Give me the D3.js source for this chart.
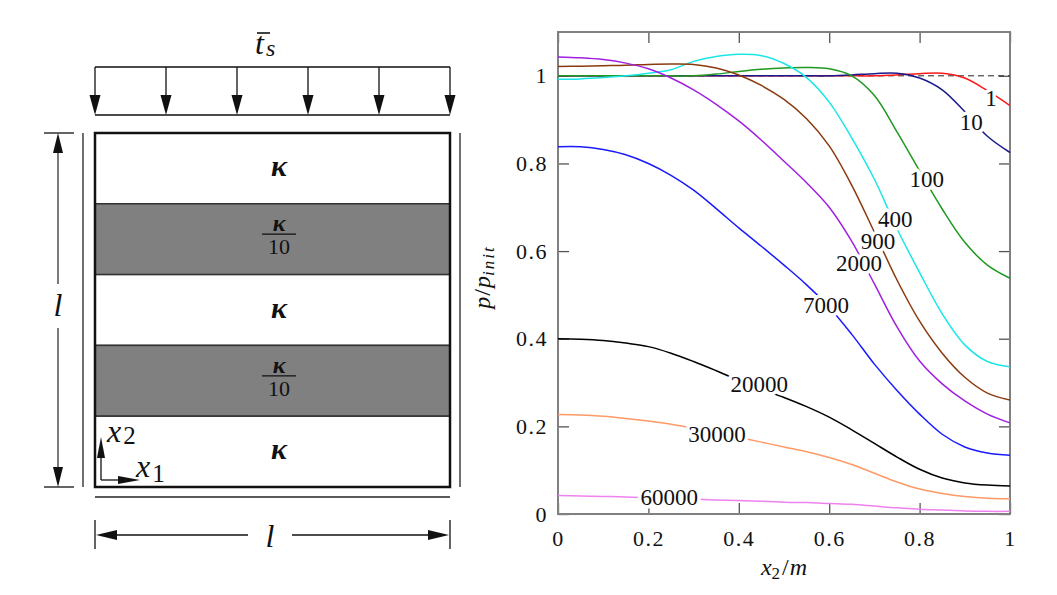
<!DOCTYPE html>
<html><head><meta charset="utf-8">
<script src="https://cdn.jsdelivr.net/npm/d3@7"></script>
<style>body{margin:0;background:#fff}svg{display:block}</style>
</head><body>
<svg id="c" width="1057" height="595"></svg>
<script>
// ---------- data ----------
const xs = [0,0.05,0.1,0.15,0.2,0.25,0.3,0.35,0.4,0.45,0.5,0.55,0.6,0.65,0.7,0.75,0.8,0.85,0.9,0.95,1];
const seriesNames = ["1","10","100","400","900","2000","7000","20000","30000","60000"];
const s1     = [1,1,1,1,1,1,1,1,1,1,1,1,1,1,1,1.002,1.005,1.006,0.995,0.966,0.932];
const s10    = [1,1,1,1,1,1,1,1,1,1,1,1,1,1.002,1.005,1.006,0.995,0.968,0.918,0.862,0.825];
const s100   = [1,1,1,1,1,1,1,1.004,1.01,1.015,1.018,1.019,1.016,1.0,0.955,0.872,0.783,0.696,0.62,0.568,0.538];
const s400   = [0.992,0.993,0.996,1.0,1.006,1.014,1.033,1.044,1.049,1.046,1.028,0.996,0.94,0.858,0.764,0.651,0.551,0.457,0.386,0.348,0.336];
const s900   = [1.021,1.022,1.023,1.024,1.026,1.027,1.026,1.018,1.002,0.978,0.946,0.902,0.84,0.75,0.643,0.534,0.44,0.367,0.312,0.276,0.26];
const s2000  = [1.043,1.041,1.037,1.029,1.016,0.995,0.968,0.935,0.897,0.853,0.805,0.756,0.700,0.622,0.525,0.427,0.349,0.297,0.258,0.228,0.208];
const s7000  = [0.838,0.838,0.832,0.82,0.80,0.773,0.739,0.697,0.653,0.611,0.568,0.523,0.472,0.41,0.342,0.282,0.228,0.182,0.153,0.139,0.134];
const s20000 = [0.40,0.399,0.396,0.39,0.382,0.367,0.348,0.327,0.305,0.285,0.266,0.245,0.221,0.192,0.161,0.13,0.102,0.082,0.071,0.066,0.064];
const s30000 = [0.227,0.226,0.223,0.218,0.212,0.205,0.196,0.186,0.175,0.164,0.153,0.142,0.129,0.113,0.093,0.073,0.057,0.047,0.04,0.036,0.035];
const s60000 = [0.042,0.041,0.040,0.039,0.037,0.035,0.034,0.032,0.031,0.029,0.027,0.026,0.024,0.022,0.018,0.014,0.011,0.009,0.007,0.006,0.006];
const seriesValues = [s1,s10,s100,s400,s900,s2000,s7000,s20000,s30000,s60000];
const seriesColors = ["#ff1a1a","#1a1a8c","#1f991f","#1ae6e6","#8b3a0f","#a020e0","#1a1aff","#000000","#ff9966","#ee82ee"];
const labelX = [0.958,0.914,0.816,0.746,0.708,0.666,0.593,0.445,0.352,0.246];
const labelY = [0.950,0.895,0.765,0.674,0.624,0.574,0.478,0.296,0.182,0.039];
const xTicks = [0,0.2,0.4,0.6,0.8,1];
const yTicks = [0,0.2,0.4,0.6,0.8,1];
const layerLabels = ["κ","κ/10","κ","κ/10","κ"];
const arrowCount = 6;

const svg = d3.select("#c");
const SERIF = "'Liberation Serif', 'Times New Roman', serif";

// ---------- right chart ----------
const L = 558, R = 1010, T = 32, B = 514;
const x = d3.scaleLinear().domain([0,1]).range([L,R]);
const y = d3.scaleLinear().domain([0,1.1]).range([B,T]);

const g = svg.append("g");
const tickLen = 11;
const axB = g.append("g").attr("transform",`translate(0,${B})`)
  .call(d3.axisBottom(x).tickValues(xTicks).tickSize(-tickLen).tickPadding(16).tickFormat(d=>d3.format("")(d)));
const axT = g.append("g").attr("transform",`translate(0,${T})`)
  .call(d3.axisTop(x).tickValues(xTicks).tickSize(-tickLen).tickFormat(""));
const axL = g.append("g").attr("transform",`translate(${L},0)`)
  .call(d3.axisLeft(y).tickValues(yTicks).tickSize(-tickLen).tickPadding(10).tickFormat(d=>d3.format("")(d)));
const axR = g.append("g").attr("transform",`translate(${R},0)`)
  .call(d3.axisRight(y).tickValues(yTicks).tickSize(-tickLen).tickFormat(""));
[axB,axT,axL,axR].forEach(a=>{
  a.select(".domain").remove();
  a.selectAll(".tick line").attr("stroke","#555").attr("stroke-width",1.3);
  a.selectAll(".tick text").attr("font-family",SERIF).attr("font-size",22).attr("fill","#111")
    .attr("letter-spacing",1.5);
});
g.append("rect").attr("x",L).attr("y",T).attr("width",R-L).attr("height",B-T)
  .attr("fill","none").attr("stroke","#808080").attr("stroke-width",2);

g.append("line").attr("x1",x(0)).attr("x2",x(1)).attr("y1",y(1)).attr("y2",y(1))
  .attr("stroke","#222").attr("stroke-width",1).attr("stroke-dasharray","6,4");

const line = d3.line().x((d,i)=>x(xs[i])).y(d=>y(d)).curve(d3.curveCatmullRom.alpha(0.5));
seriesValues.forEach((vals,k)=>{
  g.append("path").attr("d",line(vals)).attr("fill","none")
    .attr("stroke",seriesColors[k]).attr("stroke-width",1.5);
});
seriesNames.forEach((n,k)=>{
  g.append("text").attr("x",x(labelX[k])).attr("y",y(labelY[k])).attr("dy","0.35em")
    .attr("text-anchor","middle").attr("font-family",SERIF).attr("font-size",23).attr("fill","#111")
    .attr("stroke","#fff").attr("stroke-width",7).attr("paint-order","stroke").attr("stroke-linejoin","round")
    .text(n);
});
const yl = g.append("text").attr("transform",`translate(490,277) rotate(-90)`)
  .attr("text-anchor","middle").attr("font-family",SERIF).attr("font-style","italic").attr("font-size",24).attr("fill","#111");
yl.append("tspan").text("p");
yl.append("tspan").attr("font-style","normal").attr("dx",1).text("/");
yl.append("tspan").attr("dx",1).text("p");
yl.append("tspan").attr("font-size",17).attr("dy",4).attr("letter-spacing",2).text("init");
const xl = g.append("text").attr("x",784).attr("y",575)
  .attr("text-anchor","middle").attr("font-family",SERIF).attr("font-style","italic").attr("font-size",24).attr("fill","#111");
xl.append("tspan").text("x");
xl.append("tspan").attr("font-size",17).attr("font-style","normal").attr("dy",4).text("2");
xl.append("tspan").attr("dy",-4).attr("dx",2).attr("font-style","normal").text("/");
xl.append("tspan").attr("dx",1).text("m");

// ---------- left diagram ----------
const bx0 = 95, bx1 = 450, by0 = 133, by1 = 487;
const lay = d3.scaleBand().domain(d3.range(layerLabels.length)).range([by0,by1]);
const d = svg.append("g");
layerLabels.forEach((lab,i)=>{
  d.append("rect").attr("x",bx0).attr("y",lay(i)).attr("width",bx1-bx0).attr("height",lay.bandwidth())
    .attr("fill", lab.includes("/") ? "#808080" : "#fff").attr("stroke","#333").attr("stroke-width",1.5);
  const cx = 279, cy = lay(i)+lay.bandwidth()/2;
  if(lab.includes("/")){
    d.append("text").attr("x",cx).attr("y",cy-8).attr("text-anchor","middle")
      .attr("font-family",SERIF).attr("font-style","italic").attr("font-weight","bold").attr("font-size",24).attr("fill","#111").text("κ");
    d.append("line").attr("x1",cx-17).attr("x2",cx+17).attr("y1",cy-5).attr("y2",cy-5).attr("stroke","#111").attr("stroke-width",1.3);
    d.append("text").attr("x",cx).attr("y",cy+15).attr("text-anchor","middle")
      .attr("font-family",SERIF).attr("font-size",22).attr("fill","#111").text("10");
  } else {
    d.append("text").attr("x",cx).attr("y",cy).attr("dy","0.25em").attr("text-anchor","middle")
      .attr("font-family",SERIF).attr("font-style","italic").attr("font-weight","bold").attr("font-size",30).attr("fill","#111").text("κ");
  }
});
d.append("rect").attr("x",bx0).attr("y",by0).attr("width",bx1-bx0).attr("height",by1-by0)
  .attr("fill","none").attr("stroke","#111").attr("stroke-width",2.5);

d.append("line").attr("x1",83).attr("x2",83).attr("y1",by0).attr("y2",by1).attr("stroke","#222").attr("stroke-width",1.3);
d.append("line").attr("x1",460).attr("x2",460).attr("y1",by0).attr("y2",by1).attr("stroke","#222").attr("stroke-width",1.3);
d.append("line").attr("x1",bx0).attr("x2",bx1).attr("y1",497).attr("y2",497).attr("stroke","#222").attr("stroke-width",1.3);

const ax = d3.scaleLinear().domain([0,arrowCount-1]).range([bx0,bx1]);
d.append("line").attr("x1",bx0).attr("x2",bx1).attr("y1",67).attr("y2",67).attr("stroke","#111").attr("stroke-width",1.3);
d.append("line").attr("x1",bx0).attr("x2",bx1).attr("y1",115).attr("y2",115).attr("stroke","#111").attr("stroke-width",1.3);
d3.range(arrowCount).forEach(i=>{
  const px = ax(i);
  d.append("line").attr("x1",px).attr("x2",px).attr("y1",67).attr("y2",97).attr("stroke","#111").attr("stroke-width",1.3);
  d.append("path").attr("d",`M${px-5.5},95 L${px+5.5},95 L${px},115 Z`).attr("fill","#111");
});
// title t_s
d.append("line").attr("x1",257).attr("x2",270).attr("y1",33).attr("y2",33).attr("stroke","#111").attr("stroke-width",1.6);
const tt = d.append("text").attr("x",255).attr("y",54).attr("font-family",SERIF).attr("font-style","italic").attr("font-size",32).attr("fill","#111");
tt.append("tspan").text("t");
tt.append("tspan").attr("font-size",24).attr("dx",2).attr("dy",2).text("s");

const dimC = "#333";
d.append("line").attr("x1",44).attr("x2",74).attr("y1",by0).attr("y2",by0).attr("stroke","#111").attr("stroke-width",1.3);
d.append("line").attr("x1",44).attr("x2",74).attr("y1",by1).attr("y2",by1).attr("stroke","#111").attr("stroke-width",1.3);
d.append("line").attr("x1",58).attr("x2",58).attr("y1",by0+10).attr("y2",284).attr("stroke",dimC).attr("stroke-width",1.3);
d.append("line").attr("x1",58).attr("x2",58).attr("y1",328).attr("y2",by1-10).attr("stroke",dimC).attr("stroke-width",1.3);
d.append("path").attr("d",`M53,153 L63,153 L58,${by0} Z`).attr("fill","#111");
d.append("path").attr("d",`M53,${by1-20} L63,${by1-20} L58,${by1} Z`).attr("fill","#111");
d.append("text").attr("x",58).attr("y",316).attr("text-anchor","middle").attr("font-family",SERIF)
  .attr("font-style","italic").attr("font-size",32).attr("fill","#111").text("l");

d.append("line").attr("x1",bx0).attr("x2",bx0).attr("y1",520).attr("y2",549).attr("stroke","#111").attr("stroke-width",1.3);
d.append("line").attr("x1",bx1).attr("x2",bx1).attr("y1",520).attr("y2",549).attr("stroke","#111").attr("stroke-width",1.3);
d.append("line").attr("x1",bx0+10).attr("x2",248).attr("y1",535).attr("y2",535).attr("stroke","#111").attr("stroke-width",1.3);
d.append("line").attr("x1",292).attr("x2",bx1-10).attr("y1",535).attr("y2",535).attr("stroke","#111").attr("stroke-width",1.3);
d.append("path").attr("d",`M${bx0+1},535 L${bx0+22},530 L${bx0+22},540 Z`).attr("fill","#111");
d.append("path").attr("d",`M${bx1-1},535 L${bx1-22},530 L${bx1-22},540 Z`).attr("fill","#111");
d.append("text").attr("x",270).attr("y",547).attr("text-anchor","middle").attr("font-family",SERIF)
  .attr("font-style","italic").attr("font-size",32).attr("fill","#111").text("l");

d.append("line").attr("x1",101).attr("x2",101).attr("y1",480).attr("y2",455).attr("stroke","#111").attr("stroke-width",1.3);
d.append("path").attr("d",`M97,458 L105,458 L101,437 Z`).attr("fill","#111");
d.append("line").attr("x1",101).attr("x2",120).attr("y1",480).attr("y2",480).attr("stroke","#111").attr("stroke-width",1.3);
d.append("path").attr("d",`M118,476 L118,484 L140,480 Z`).attr("fill","#111");
const x2t = d.append("text").attr("x",107).attr("y",442).attr("font-family",SERIF).attr("font-size",32).attr("fill","#111");
x2t.append("tspan").attr("font-style","italic").text("x");
x2t.append("tspan").attr("font-size",25).attr("dx",2).attr("dy",2).text("2");
const x1t = d.append("text").attr("x",136).attr("y",477).attr("font-family",SERIF).attr("font-size",32).attr("fill","#111");
x1t.append("tspan").attr("font-style","italic").text("x");
x1t.append("tspan").attr("font-size",25).attr("dx",2).attr("dy",5).text("1");
</script>
</body></html>
